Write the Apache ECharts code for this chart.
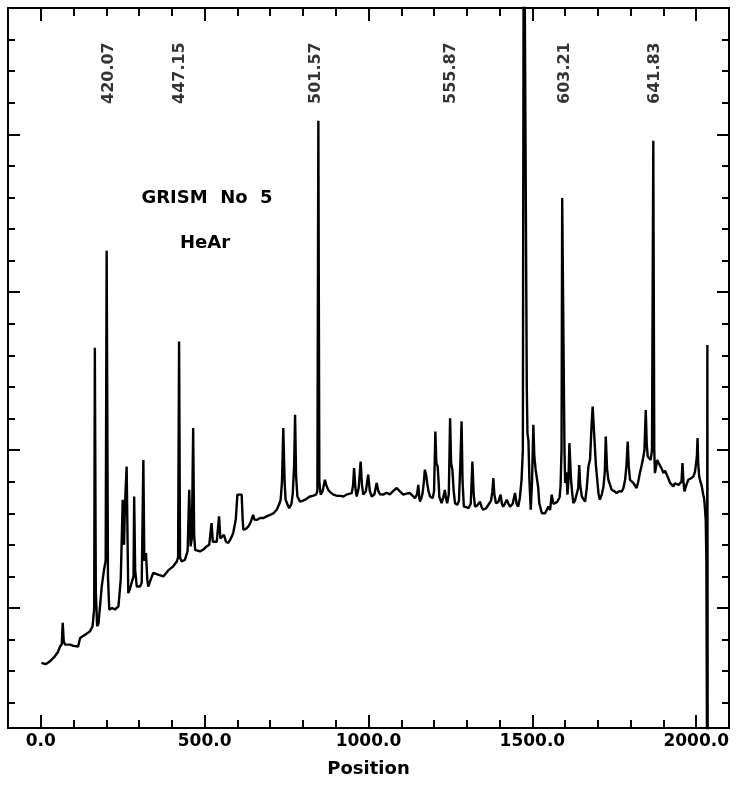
<!DOCTYPE html>
<html>
<head>
<meta charset="utf-8">
<script src="https://cdn.jsdelivr.net/npm/echarts@6/dist/echarts.min.js"></script>
<style>html,body{margin:0;padding:0;background:#fff}#c{width:737px;height:790px}</style>
</head>
<body>
<div id="c"></div>
<script>
// Spectrum positions (pixel position along the detector)
const positions = [2,15,28,43,52,59,64,67,70,74,89,100,114,120,135,150,158,163,165,168,172,176,186,193,198,201,205,209,218,226,237,244,250,254,257,262,265,267,272,277,283,285,288,293,303,308,313,316,321,325,328,343,360,374,390,404,415,419,422,425,430,440,448,453,456,457,461,465,468,471,486,496,506,514,521,525,529,537,544,548,552,559,565,572,580,587,595,600,613,616,618,625,633,640,648,652,659,670,680,689,700,710,720,728,732,736,740,744,747,752,758,765,769,773,776,779,783,791,800,810,821,830,840,844,847,850,854,860,867,871,877,885,893,905,915,923,935,949,953,956,960,964,970,976,980,984,992,999,1004,1010,1018,1025,1030,1035,1045,1055,1065,1075,1086,1095,1106,1116,1126,1135,1142,1148,1152,1155,1157,1162,1165,1169,1172,1176,1179,1183,1188,1196,1200,1204,1207,1211,1214,1216,1223,1228,1233,1236,1240,1245,1249,1252,1256,1260,1264,1271,1276,1280,1284,1287,1291,1298,1305,1312,1317,1321,1325,1332,1340,1345,1350,1358,1366,1374,1378,1381,1384,1389,1396,1403,1407,1411,1416,1422,1427,1432,1440,1447,1452,1457,1462,1467,1471,1474,1480,1483,1485,1488,1491,1495,1499,1503,1506,1510,1515,1518,1521,1529,1535,1539,1544,1549,1554,1559,1564,1569,1575,1579,1583,1586,1589,1591,1595,1598,1600,1604,1607,1610,1613,1616,1618,1622,1625,1630,1635,1640,1643,1646,1651,1656,1661,1666,1671,1676,1681,1684,1686,1689,1694,1698,1702,1706,1712,1717,1721,1724,1728,1732,1737,1742,1750,1757,1765,1773,1778,1783,1787,1791,1794,1798,1803,1808,1813,1818,1823,1828,1833,1838,1842,1846,1849,1852,1857,1861,1865,1869,1872,1874,1878,1881,1885,1889,1895,1900,1905,1910,1915,1920,1925,1930,1935,1941,1946,1951,1955,1958,1961,1964,1970,1976,1983,1991,1996,1999,2002,2004,2006,2009,2013,2017,2021,2024,2027,2029,2031,2033,2034,2035];
// Intensity (arbitrary units)
const intensity = [3.26,3.22,3.31,3.47,3.6,3.78,3.85,4.53,3.95,3.84,3.84,3.8,3.78,4.05,4.15,4.26,4.42,5.0,13.24,5.5,4.42,4.5,5.68,6.21,6.5,16.31,6.0,4.95,5.0,4.95,5.05,5.9,8.43,7.0,8.3,9.48,7.0,5.47,5.6,5.79,6.0,8.53,6.2,5.68,5.68,5.8,9.69,6.5,6.74,5.9,5.68,6.11,6.05,6.0,6.2,6.32,6.47,6.6,13.44,6.6,6.47,6.53,6.8,8.74,7.5,6.95,7.2,10.7,7.3,6.84,6.79,6.85,6.95,7.0,7.69,7.1,7.06,7.1,7.9,7.2,7.16,7.32,7.1,7.06,7.2,7.37,7.8,8.59,8.59,7.8,7.48,7.5,7.58,7.7,7.95,7.8,7.79,7.85,7.85,7.9,7.95,8.0,8.11,8.3,8.43,9.0,10.7,9.0,8.43,8.3,8.16,8.3,8.64,9.5,11.12,9.2,8.53,8.37,8.4,8.45,8.53,8.55,8.59,8.7,20.43,9.0,8.59,8.7,9.06,8.9,8.74,8.65,8.59,8.55,8.55,8.53,8.6,8.64,8.9,9.43,8.8,8.53,8.8,9.64,8.9,8.59,8.7,9.22,8.7,8.53,8.6,8.96,8.7,8.6,8.59,8.65,8.6,8.7,8.8,8.7,8.59,8.62,8.64,8.55,8.48,8.6,8.9,8.5,8.37,8.5,8.64,9.0,9.38,9.2,8.96,8.7,8.53,8.48,8.7,10.59,9.6,9.48,9.0,8.53,8.32,8.5,8.74,8.5,8.32,8.6,11.01,9.6,9.38,8.7,8.32,8.27,8.4,9.5,10.91,9.0,8.21,8.2,8.16,8.3,9.64,8.6,8.21,8.25,8.37,8.2,8.11,8.15,8.27,8.4,8.7,9.11,8.6,8.32,8.35,8.59,8.3,8.21,8.3,8.43,8.3,8.21,8.3,8.64,8.3,8.21,8.5,9.06,10.0,30,30,12,10.54,10.3,9.06,8.11,9.0,10.8,9.8,9.38,9.43,8.8,8.32,8.0,7.95,8.0,8.0,8.21,8.1,8.59,8.3,8.27,8.35,8.32,8.5,8.85,10.0,17.98,17.98,10.0,8.96,9.3,8.59,9.0,10.22,9.5,9.06,8.6,8.32,8.4,8.43,8.8,9.53,8.9,8.53,8.45,8.37,8.8,9.48,9.7,10.85,11.38,11.0,10.43,9.5,9.06,8.6,8.43,8.6,8.85,9.3,10.43,9.4,9.06,8.9,8.74,8.7,8.64,8.7,8.69,8.8,9.06,9.5,10.27,9.5,9.06,9.0,8.96,8.9,8.8,9.0,9.27,9.5,9.75,10.0,11.27,10.2,9.8,9.8,9.69,10.0,19.8,10.0,9.27,9.5,9.69,9.6,9.59,9.4,9.27,9.35,9.38,9.1,8.96,8.9,8.85,8.95,9.01,8.9,8.85,9.0,9.59,9.0,8.69,8.9,9.06,9.1,9.16,9.3,9.53,9.8,10.38,9.6,9.16,9.0,8.85,8.6,8.48,8.1,7.79,6.5,0,13.33,0];

// Line identifications (wavelength labels) and where they sit along the axis
const lineLabels = ['420.07','447.15','501.57','555.87','603.21','641.83'];
const labelPositions = [208,424,840,1250,1600,1874];
const labelLevel = 20.96;

// Axis ticks
const xMinorTicks = [];
for (let v = -100; v <= 2100; v += 100) xMinorTicks.push(v);
const xMajorTicks = [0,500,1000,1500,2000];
const yMinorTicks = [2,3,4,5,6,7,8,9,10,11,12,13,14,15,16,17,18,19,20,21,22,23];
const yMajorTicks = [5,10,15,20];

const X_MIN = -100, X_MAX = 2100, Y_MIN = 1.2, Y_MAX = 24;

const chart = echarts.init(document.getElementById('c'), null, {renderer: 'canvas'});
const FONT = '"DejaVu Sans", sans-serif';

function xAx(pos, ticks, len, labels) {
  return {
    type: 'value', position: pos, min: X_MIN, max: X_MAX,
    splitLine: {show: false},
    axisLine: {show: true, onZero: false, lineStyle: {color: '#000', width: 2}},
    axisTick: {show: true, inside: true, length: len, customValues: ticks, lineStyle: {color: '#000', width: 2}},
    axisLabel: labels ? {
      show: true, customValues: ticks, margin: 5, color: '#000',
      fontFamily: FONT, fontWeight: 'bold', fontSize: 17,
      formatter: v => Number(v).toFixed(1)
    } : {show: false},
    name: labels ? 'Position' : '',
    nameLocation: 'middle', nameGap: 32,
    nameTextStyle: {color: '#000', fontFamily: FONT, fontWeight: 'bold', fontSize: 18}
  };
}
function yAx(pos, ticks, len) {
  return {
    type: 'value', position: pos, min: Y_MIN, max: Y_MAX,
    splitLine: {show: false},
    axisLine: {show: true, onZero: false, lineStyle: {color: '#000', width: 2}},
    axisTick: {show: true, inside: true, length: len, customValues: ticks, lineStyle: {color: '#000', width: 2}},
    axisLabel: {show: false}
  };
}

const lineData = positions.map((p, i) => [p, intensity[i]]);
const labelData = labelPositions.map((p, i) => [p, labelLevel, lineLabels[i]]);

chart.setOption({
  animation: false,
  backgroundColor: '#fff',
  grid: {left: 8, right: 8, top: 8, bottom: 62, containLabel: false},
  xAxis: [
    xAx('bottom', xMinorTicks, 8, false),
    xAx('bottom', xMajorTicks, 13, true),
    xAx('top', xMinorTicks, 8, false),
    xAx('top', xMajorTicks, 13, false)
  ],
  yAxis: [
    yAx('left', yMinorTicks, 7),
    yAx('left', yMajorTicks, 12),
    yAx('right', yMinorTicks, 7),
    yAx('right', yMajorTicks, 12)
  ],
  series: [
    {
      type: 'line', xAxisIndex: 0, yAxisIndex: 0, data: lineData,
      showSymbol: false, symbol: 'none', clip: true, silent: true,
      lineStyle: {color: '#000', width: 2.4, join: 'bevel'}
    },
    {
      type: 'scatter', xAxisIndex: 0, yAxisIndex: 0, data: labelData,
      symbolSize: 0, silent: true, clip: false,
      label: {
        show: true, rotate: 90, position: [0, 0], align: 'left', verticalAlign: 'middle',
        color: '#000', fontFamily: FONT, fontWeight: 'bold', fontSize: 16,
        formatter: p => p.data[2]
      }
    }
  ],
  graphic: [
    {type: 'text', x: 207, y: 198, silent: true,
     style: {text: 'GRISM  No  5', fill: '#000', font: 'bold 18px "DejaVu Sans"', align: 'center', verticalAlign: 'middle'}},
    {type: 'text', x: 205, y: 243, silent: true,
     style: {text: 'HeAr', fill: '#000', font: 'bold 18px "DejaVu Sans"', align: 'center', verticalAlign: 'middle'}}
  ]
});
</script>
</body>
</html>
